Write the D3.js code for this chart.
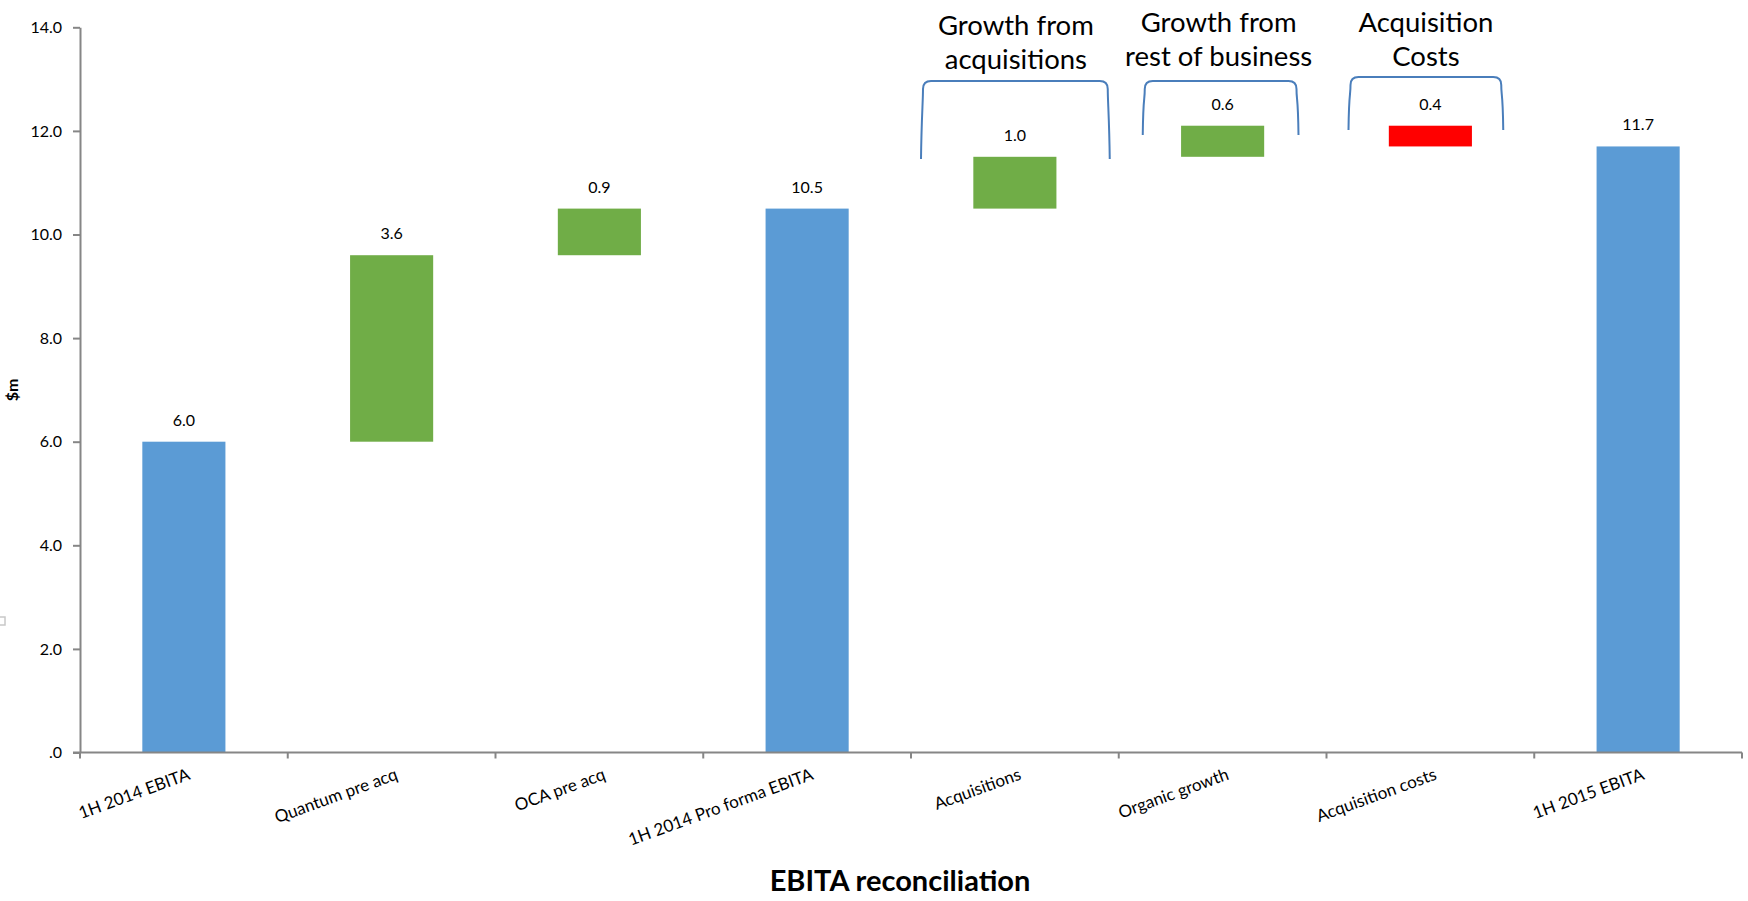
<!DOCTYPE html>
<html>
<head>
<meta charset="utf-8">
<script src="https://cdn.jsdelivr.net/npm/d3@7"></script>
<style>
  html, body { margin: 0; padding: 0; background: #fff; }
  svg { display: block; font-family: Lato, "Open Sans", sans-serif; }
</style>
</head>
<body>
<svg id="chart" width="1748" height="901"></svg>
<script>
// EBITA bridge: category names, signed movements and bar kinds
const categories = [
  "1H 2014 EBITA", "Quantum pre acq", "OCA pre acq", "1H 2014 Pro forma EBITA",
  "Acquisitions", "Organic growth", "Acquisition costs", "1H 2015 EBITA"
];
const values = [6.0, 3.6, 0.9, 10.5, 1.0, 0.6, -0.4, 11.7];
const barKinds = ["total", "increase", "increase", "total", "increase", "increase", "decrease", "total"];

const yTickValues = [0, 2, 4, 6, 8, 10, 12, 14];
const yTickLabels = [".0", "2.0", "4.0", "6.0", "8.0", "10.0", "12.0", "14.0"];

// bracketed call-outs above the three growth components
const groupCategories = ["Acquisitions", "Organic growth", "Acquisition costs"];
const groupTitles = [
  ["Growth from", "acquisitions"],
  ["Growth from", "rest of business"],
  ["Acquisition", "Costs"]
];

const yAxisTitle = "$m";
const chartTitle = "EBITA reconciliation";

// ---- layout ----
const plot = { left: 80, right: 1742, top: 27.3, bottom: 752.5 };
const colors = { total: "#5B9BD5", increase: "#70AD47", decrease: "#FF0000" };
const axisColor = "#868686";

const svg = d3.select("#chart");

const x = d3.scaleBand().domain(categories).range([plot.left, plot.right])
  .paddingInner(0.6).paddingOuter(0.3);
const xCat = d3.scaleBand().domain(categories).range([plot.left, plot.right]);
const y = d3.scaleLinear().domain([0, 14]).range([plot.bottom, plot.top]);

// running totals for the floating bars
let running = 0;
const bars = categories.map((c, i) => {
  const v = values[i], kind = barKinds[i];
  let lo, hi;
  if (kind === "total") { lo = 0; hi = v; running = v; }
  else if (kind === "increase") { lo = running; hi = running + v; running = hi; }
  else { lo = running + v; hi = running; running = lo; }
  return { category: c, value: v, kind, lo, hi };
});

// bars
svg.append("g").selectAll("rect").data(bars).join("rect")
  .attr("x", d => x(d.category))
  .attr("width", x.bandwidth())
  .attr("y", d => y(d.hi))
  .attr("height", d => y(d.lo) - y(d.hi))
  .attr("fill", d => colors[d.kind]);

// value labels
const fmt = d3.format(".1f");
svg.append("g").selectAll("text").data(bars).join("text")
  .attr("x", d => x(d.category) + x.bandwidth() / 2)
  .attr("y", d => y(d.hi) - 16)
  .attr("text-anchor", "middle")
  .attr("font-size", 16)
  .attr("fill", "#000")
  .text(d => fmt(Math.abs(d.value)));

// y axis
const yAxis = d3.axisLeft(y)
  .tickValues(yTickValues)
  .tickFormat((d, i) => yTickLabels[i])
  .tickSize(7).tickSizeOuter(0).tickPadding(11);
const gy = svg.append("g").attr("transform", `translate(${plot.left},0)`).call(yAxis);
gy.select(".domain").attr("stroke", axisColor).attr("stroke-width", 2);
gy.selectAll(".tick line").attr("stroke", axisColor).attr("stroke-width", 2);
gy.selectAll(".tick text").attr("font-size", 16).attr("fill", "#000")
  .attr("font-family", "Lato, sans-serif");

// x axis: line with ticks on category boundaries
const gx = svg.append("g");
gx.append("line")
  .attr("x1", plot.left - 7).attr("x2", plot.right)
  .attr("y1", plot.bottom).attr("y2", plot.bottom)
  .attr("stroke", axisColor).attr("stroke-width", 2);
const bounds = categories.map(c => xCat(c)).concat([xCat(categories[categories.length - 1]) + xCat.bandwidth()]);
gx.selectAll("line.tk").data(bounds).join("line").attr("class", "tk")
  .attr("x1", d => d).attr("x2", d => d)
  .attr("y1", plot.bottom).attr("y2", plot.bottom + 6)
  .attr("stroke", axisColor).attr("stroke-width", 2);
gx.selectAll("text").data(categories).join("text")
  .attr("transform", c => `translate(${xCat(c) + xCat.bandwidth() / 2 + 3},${plot.bottom + 15}) rotate(-20)`)
  .attr("text-anchor", "end")
  .attr("dy", "0.72em")
  .attr("font-size", 17)
  .attr("fill", "#000")
  .text(c => c);

// y axis title
svg.append("text")
  .attr("transform", "translate(18,390) rotate(-90)")
  .attr("text-anchor", "middle")
  .attr("font-size", 16).attr("font-weight", 700)
  .text(yAxisTitle);

// chart title below the axis
svg.append("text")
  .attr("x", 900).attr("y", 891)
  .attr("text-anchor", "middle")
  .attr("font-size", 29).attr("font-weight", 700)
  .text(chartTitle);

// call-out brackets and captions
const bracketLayout = [
  { inL: 10, inR: 9, top: 81, bottom: 159, dx: 1, base: 34.5 },
  { inL: 24, inR: 28, top: 81, bottom: 135, dx: -4, base: 32 },
  { inL: 22, inR: 31, top: 77, bottom: 130, dx: -4.5, base: 32 }
];
groupCategories.forEach((c, i) => {
  const L = bracketLayout[i];
  const x0 = xCat(c) + L.inL, x1 = xCat(c) + xCat.bandwidth() - L.inR;
  const r = 8;
  const p = d3.path();
  p.moveTo(x0, L.bottom);
  p.bezierCurveTo(x0 + 0.5, L.bottom - 40, x0 + 2, L.top + 20, x0 + 2, L.top + r);
  p.quadraticCurveTo(x0 + 2, L.top, x0 + 2 + r, L.top);
  p.lineTo(x1 - 2 - r, L.top);
  p.quadraticCurveTo(x1 - 2, L.top, x1 - 2, L.top + r);
  p.bezierCurveTo(x1 - 2, L.top + 20, x1 - 0.5, L.bottom - 40, x1, L.bottom);
  svg.append("path").attr("d", p.toString())
    .attr("fill", "none").attr("stroke", "#4A7EBB").attr("stroke-width", 2);

  const cx = xCat(c) + xCat.bandwidth() / 2 + L.dx;
  svg.append("g").selectAll("text").data(groupTitles[i]).join("text")
    .attr("x", cx).attr("y", (d, k) => L.base + k * 34)
    .attr("text-anchor", "middle")
    .attr("font-size", 27.5).attr("fill", "#000")
    .text(d => d);
});

// small selection handle at the left edge
svg.append("rect").attr("x", -2).attr("y", 617).attr("width", 7).attr("height", 8)
  .attr("fill", "#fff").attr("stroke", "#c8c8c8").attr("stroke-width", 1.5);
</script>
</body>
</html>
